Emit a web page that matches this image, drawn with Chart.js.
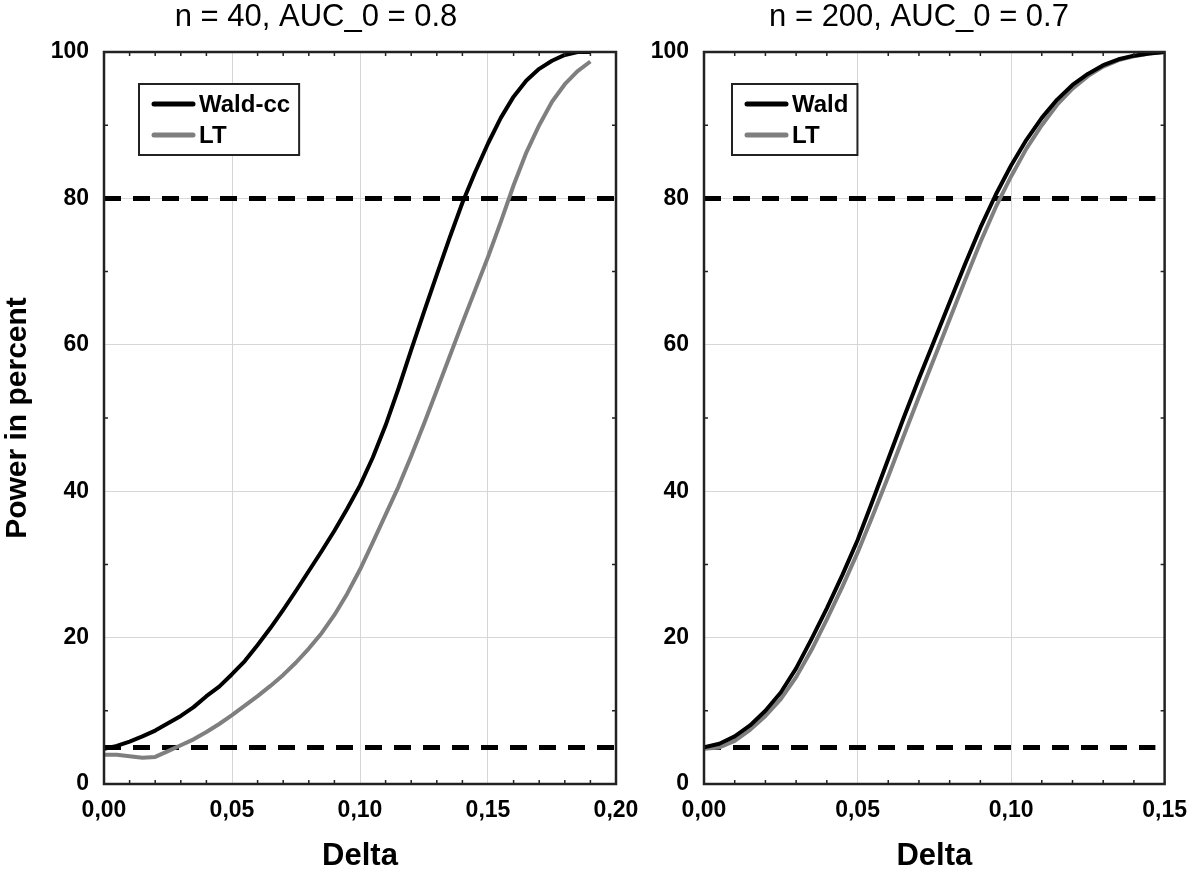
<!DOCTYPE html>
<html>
<head>
<meta charset="utf-8">
<script src="https://cdn.jsdelivr.net/npm/chart.js@4.4.1/dist/chart.umd.min.js"></script>
<style>
  html, body { margin: 0; background: #fff; }
  #wrap { position: relative; width: 1200px; height: 876px; overflow: hidden; }
  #leftChart { position: absolute; left: 0; top: 0; }
  #rightChart { position: absolute; left: 620px; top: 0; }
</style>
</head>
<body>
<div id="wrap">
  <canvas id="leftChart" width="660" height="876"></canvas>
  <canvas id="rightChart" width="580" height="876"></canvas>
</div>
<script>
// ===== DATA: left panel (n = 40, AUC_0 = 0.8) =====
const leftDelta = [0, 0.005, 0.01, 0.015, 0.02, 0.025, 0.03, 0.035, 0.04, 0.045,
  0.05, 0.055, 0.06, 0.065, 0.07, 0.075, 0.08, 0.085, 0.09, 0.095,
  0.1, 0.105, 0.11, 0.115, 0.12, 0.125, 0.13, 0.135, 0.14, 0.145,
  0.15, 0.155, 0.16, 0.165, 0.17, 0.175, 0.18, 0.185, 0.19];
const leftWaldCc = [4.8, 5.2, 5.8, 6.5, 7.3, 8.3, 9.3, 10.5, 12.0, 13.3,
  15.0, 16.8, 19.0, 21.3, 23.8, 26.4, 29.1, 31.8, 34.6, 37.6,
  40.8, 44.6, 49.0, 54.0, 59.3, 64.5, 69.6, 74.6, 79.4, 83.6,
  87.5, 91.0, 93.9, 96.1, 97.7, 98.8, 99.6, 100, 100];
const leftLT = [4.0, 4.0, 3.8, 3.6, 3.7, 4.5, 5.3, 6.1, 7.1, 8.2,
  9.4, 10.7, 12.0, 13.4, 14.9, 16.6, 18.5, 20.6, 23.1, 26.0,
  29.3, 33.0, 36.8, 40.6, 44.8, 49.2, 53.8, 58.4, 63.0, 67.5,
  72.0, 76.8, 81.8, 86.3, 90.0, 93.2, 95.6, 97.4, 98.7];

// ===== DATA: right panel (n = 200, AUC_0 = 0.7) =====
const rightDelta = [0, 0.005, 0.01, 0.015, 0.02, 0.025, 0.03, 0.035, 0.04, 0.045,
  0.05, 0.055, 0.06, 0.065, 0.07, 0.075, 0.08, 0.085, 0.09, 0.095,
  0.1, 0.105, 0.11, 0.115, 0.12, 0.125, 0.13, 0.135, 0.14, 0.145, 0.15];
const rightWald = [5.0, 5.5, 6.5, 8.0, 10.0, 12.5, 15.8, 19.8, 24.0, 28.5,
  33.3, 38.8, 44.4, 50.0, 55.4, 60.6, 65.8, 71.0, 76.0, 80.5,
  84.5, 88.0, 91.0, 93.5, 95.5, 97.0, 98.2, 99.0, 99.5, 99.8, 100];
const rightLT = [4.8, 5.0, 5.9, 7.4, 9.3, 11.6, 14.6, 18.3, 22.5, 26.9,
  31.6, 36.7, 42.0, 47.5, 52.9, 58.2, 63.5, 68.8, 74.0, 78.8,
  83.0, 86.8, 90.0, 92.8, 95.0, 96.7, 98.0, 98.9, 99.4, 99.8, 100];

// reference levels (dashed) and axis ticks
const refLevels = [80, 5];
const leftRefEnd = 0.2;
const rightRefEnd = 0.147;
const yTicks = [0, 20, 40, 60, 80, 100];
const yMinor = [10, 30, 50, 70, 90];
const leftXTicks = [0, 0.05, 0.1, 0.15, 0.2];
const rightXTicks = [0, 0.05, 0.1, 0.15];
const leftXMinor = [0.01, 0.02, 0.03, 0.04, 0.06, 0.07, 0.08, 0.09, 0.11, 0.12, 0.13, 0.14, 0.16, 0.17, 0.18, 0.19];
const rightXMinor = [0.01, 0.02, 0.03, 0.04, 0.06, 0.07, 0.08, 0.09, 0.11, 0.12, 0.13, 0.14];

const FONT = "'Liberation Sans', Arial, sans-serif";
const pts = (xs, ys) => xs.map((x, i) => ({ x, y: ys[i] }));
const fmtDelta = v => Number(v).toFixed(2).replace('.', ',');

// ===== PLUGINS =====
// panel title, drawn centred at a fixed x
const panelTitle = {
  id: 'panelTitle',
  afterDraw(chart, args, opts) {
    const ctx = chart.ctx;
    ctx.save();
    ctx.font = `31px ${FONT}`;
    ctx.fillStyle = '#000';
    ctx.textAlign = 'center';
    ctx.textBaseline = 'middle';
    ctx.fillText(opts.text, opts.x, opts.y);
    ctx.restore();
  }
};

// black frame around the plot + small inward minor ticks
const frame = {
  id: 'frame',
  afterDraw(chart, args, opts) {
    const { ctx, chartArea: a, scales } = chart;
    ctx.save();
    ctx.strokeStyle = '#222';
    ctx.lineWidth = 1.5;
    ctx.beginPath();
    (opts.xMinor || []).forEach(v => {
      const px = scales.x.getPixelForValue(v);
      ctx.moveTo(px, a.bottom); ctx.lineTo(px, a.bottom - 4);
      ctx.moveTo(px, a.top); ctx.lineTo(px, a.top + 4);
    });
    (opts.yMinor || []).forEach(v => {
      const py = scales.y.getPixelForValue(v);
      ctx.moveTo(a.left, py); ctx.lineTo(a.left + 4, py);
      ctx.moveTo(a.right, py); ctx.lineTo(a.right - 4, py);
    });
    ctx.stroke();
    ctx.lineWidth = 2.5;
    ctx.strokeRect(a.left, a.top, a.right - a.left, a.bottom - a.top);
    ctx.restore();
  }
};

// boxed legend inside the plot area (top-left)
const boxLegend = {
  id: 'boxLegend',
  afterDraw(chart, args, opts) {
    const { ctx, chartArea: a } = chart;
    const items = chart.data.datasets.filter(d => !d.refLine);
    ctx.save();
    ctx.font = `bold 24px ${FONT}`;
    const textW = Math.max(...items.map(d => ctx.measureText(d.label).width));
    const x0 = a.left + opts.dx, y0 = a.top + 32;
    const w = 14 + 40 + 6 + textW + 9, h = 71;
    ctx.fillStyle = '#fff';
    ctx.fillRect(x0, y0, w, h);
    ctx.strokeStyle = '#222';
    ctx.lineWidth = 2;
    ctx.strokeRect(x0, y0, w, h);
    items.forEach((d, i) => {
      const yy = y0 + 20 + i * 31;
      ctx.strokeStyle = d.borderColor;
      ctx.lineWidth = 5;
      ctx.lineCap = 'round';
      ctx.beginPath();
      ctx.moveTo(x0 + 15, yy); ctx.lineTo(x0 + 54, yy);
      ctx.stroke();
      ctx.fillStyle = '#000';
      ctx.textBaseline = 'middle';
      ctx.fillText(d.label, x0 + 60, yy + 1);
    });
    ctx.restore();
  }
};

// ===== CHART BUILDER =====
function makeChart(canvasId, cfg) {
  const curve = (label, color, data) => ({
    label, data, borderColor: color, borderWidth: 4,
    pointRadius: 0, tension: 0, fill: false, borderJoinStyle: 'round'
  });
  const ref = (lvl) => ({
    label: '', refLine: true,
    data: [{ x: 0, y: lvl }, { x: cfg.refEnd, y: lvl }],
    borderColor: '#000', borderWidth: 5, borderDash: [17, 12],
    pointRadius: 0, fill: false
  });
  return new Chart(document.getElementById(canvasId), {
    type: 'line',
    data: {
      datasets: [
        curve(cfg.names[0], '#000000', pts(cfg.delta, cfg.first)),
        curve(cfg.names[1], '#7f7f7f', pts(cfg.delta, cfg.second)),
        ...refLevels.map(ref)
      ]
    },
    options: {
      responsive: false,
      animation: false,
      layout: { padding: { top: 52, right: cfg.padRight, left: 0, bottom: 0 } },
      plugins: {
        legend: { display: false },
        tooltip: { enabled: false },
        panelTitle: { text: cfg.title, x: cfg.titleX, y: 17 },
        frame: { xMinor: cfg.xMinor, yMinor: yMinor },
        boxLegend: { dx: cfg.legendDx }
      },
      scales: {
        x: {
          type: 'linear', min: 0, max: cfg.xMax,
          afterBuildTicks: s => { s.ticks = cfg.xTicks.map(v => ({ value: v })); },
          afterFit: s => { s.height = 92; },
          grid: { color: '#d6d6d6', lineWidth: 1, drawTicks: false },
          border: { display: false },
          ticks: {
            padding: 13, color: '#000', maxRotation: 0,
            font: { family: FONT, size: 23, weight: 'bold' },
            callback: v => fmtDelta(v)
          },
          title: {
            display: true, text: 'Delta', color: '#000',
            font: { family: FONT, size: 31, weight: 'bold' },
            padding: { top: 0, bottom: 1 }
          }
        },
        y: {
          type: 'linear', min: 0, max: 100,
          afterBuildTicks: s => { s.ticks = yTicks.map(v => ({ value: v })); },
          afterFit: s => { s.width = cfg.yWidth; },
          grid: { color: '#d6d6d6', lineWidth: 1, drawTicks: false },
          border: { display: false },
          ticks: {
            padding: 15, color: '#000',
            font: { family: FONT, size: 23, weight: 'bold' }
          },
          title: {
            display: cfg.yTitle, text: 'Power in percent', color: '#000',
            font: { family: FONT, size: 30, weight: 'bold' },
            padding: { top: 0, bottom: 0 }
          }
        }
      }
    },
    plugins: [panelTitle, frame, boxLegend]
  });
}

makeChart('leftChart', {
  title: 'n = 40, AUC_0 = 0.8', titleX: 316,
  names: ['Wald-cc', 'LT'],
  delta: leftDelta, first: leftWaldCc, second: leftLT,
  xMax: 0.2, xTicks: leftXTicks, xMinor: leftXMinor, refEnd: leftRefEnd,
  yWidth: 104, yTitle: true, padRight: 44, legendDx: 35
});

makeChart('rightChart', {
  title: 'n = 200, AUC_0 = 0.7', titleX: 299,
  names: ['Wald', 'LT'],
  delta: rightDelta, first: rightWald, second: rightLT,
  xMax: 0.15, xTicks: rightXTicks, xMinor: rightXMinor, refEnd: rightRefEnd,
  yWidth: 84, yTitle: false, padRight: 26, legendDx: 28
});
</script>
</body>
</html>
